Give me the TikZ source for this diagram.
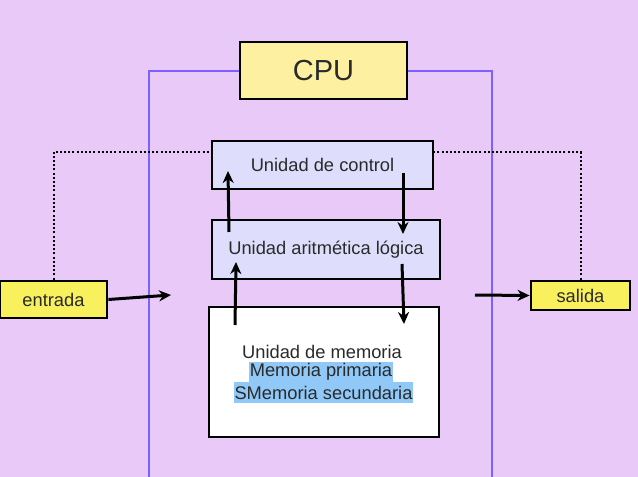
\documentclass[tikz,border=0pt]{standalone}
\usepackage{fontspec}
\setmainfont{Liberation Sans}
\usetikzlibrary{arrows.meta}
\definecolor{bg}{HTML}{E8C9F8}
\definecolor{cpuyel}{HTML}{FDF0A0}
\definecolor{boxlav}{HTML}{DEDEFC}
\definecolor{ioyel}{HTML}{F8F05C}
\definecolor{frameblue}{HTML}{7B61FF}
\definecolor{hilite}{HTML}{90C8F8}
\definecolor{txt}{HTML}{2A2A2A}
\begin{document}
\begin{tikzpicture}[x=1pt,y=-1pt,
  box/.style={draw=black,line width=2.8pt,text=txt,inner sep=0pt},
  arr/.style={line width=3pt,-{Stealth[length=12pt,width=11pt]}},
  dots/.style={line width=2pt,dash pattern=on 2pt off 2.2pt},
  frame/.style={draw=frameblue,line width=2pt},
  tf/.style={font=\fontsize{18.3}{22}\selectfont},
  lbl/.style={text=txt,inner sep=0pt,tf}]
\fill[bg] (0,0) rectangle (638,477);
\useasboundingbox (0,0) rectangle (638,477);
% nodes
\node[box,fill=cpuyel,minimum width=167pt,minimum height=57pt,font=\fontsize{29}{34}\selectfont] (cpu) at (323.5,70.5) {CPU};
\node[box,fill=boxlav,minimum width=221pt,minimum height=48pt,tf] (ctrl) at (322.5,165) {Unidad de control};
\node[box,fill=boxlav,minimum width=228pt,minimum height=59pt,tf] (alu) at (326,249.5) {Unidad aritmética lógica};
\node[box,fill=white,minimum width=230pt,minimum height=130pt] (mem) at (324,372) {};
\node[lbl] (m1) at (322,352) {Unidad de memoria};
\node[lbl,fill=hilite,inner xsep=0.5pt,minimum height=20pt] (m2) at (321,372) {Memoria primaria};
\node[lbl,fill=hilite,inner xsep=0.5pt,minimum height=21pt] (m3) at (323.5,392.5) {SMemoria secundaria};
\node[box,fill=ioyel,minimum width=107pt,minimum height=37pt,tf] (in) at (53.5,299.5) {entrada};
\node[box,fill=ioyel,minimum width=99pt,minimum height=29pt,tf] (out) at (580.5,295.5) {salida};
% blue frame
\coordinate (fl) at (149,480);
\coordinate (fr) at (492,480);
\draw[frame] (cpu.west) -| (fl);
\draw[frame] (cpu.east) -| (fr);
% dotted links
\coordinate (dl) at (212,151.5);
\coordinate (dr) at (433,152);
\draw[dots] (in.north) |- (dl);
\draw[dots] (out.north) |- (dr);
% arrows
\coordinate (ia) at (171,295);
\coordinate (ob) at (475,295);
\draw[arr] (in.east) -- (ia);
\draw[arr] (ob) -- (out.west);
\coordinate (u1s) at (229,232);
\coordinate (u1e) at (228,171);
\coordinate (u2s) at (235,325);
\coordinate (u2e) at (236,262);
\coordinate (d1s) at (403,173);
\coordinate (d1e) at (403,234);
\coordinate (d2s) at (402,264);
\coordinate (d2e) at (404,324);
\draw[arr] (u1s) -- (u1e);
\draw[arr] (u2s) -- (u2e);
\draw[arr] (d1s) -- (d1e);
\draw[arr] (d2s) -- (d2e);
\end{tikzpicture}
\end{document}
